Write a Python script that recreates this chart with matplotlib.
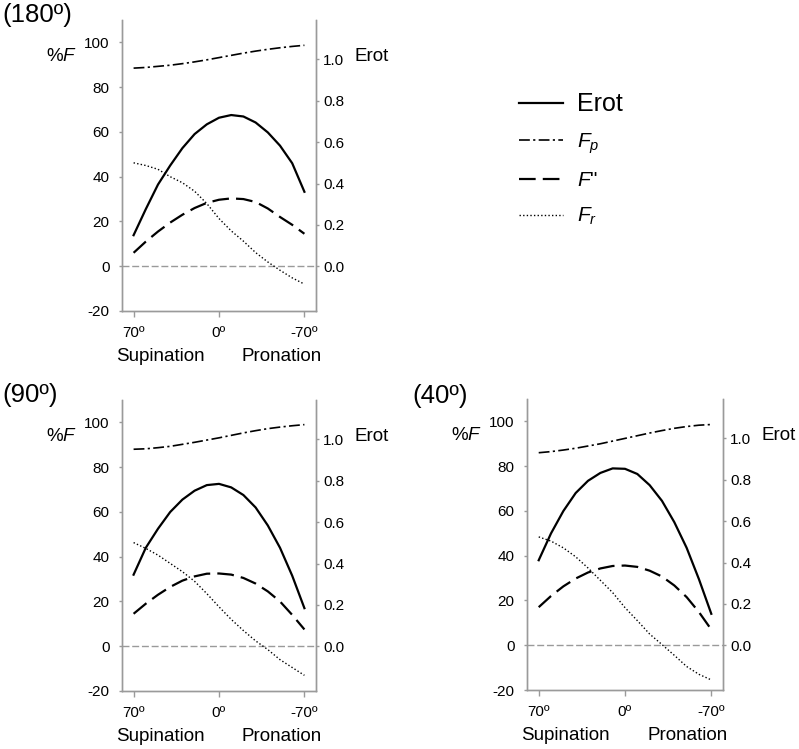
import matplotlib
matplotlib.use("Agg")
import matplotlib.pyplot as plt

plt.rcParams['font.family'] = ['Liberation Sans', 'DejaVu Sans']
plt.rcParams['mathtext.fontset'] = 'custom'
plt.rcParams['mathtext.rm'] = 'Liberation Sans'
plt.rcParams['mathtext.it'] = 'Liberation Sans:italic'

# ---------------- data ----------------
angles = [70, 60, 50, 40, 30, 20, 10, 0, -10, -20, -30, -40, -50, -60, -70]
x_ticks = [70, 0, -70]
x_tick_labels = ['70º', '0º', '-70º']
left_ticks = [-20, 0, 20, 40, 60, 80, 100]
right_ticks = [0.0, 0.2, 0.4, 0.6, 0.8, 1.0]

# 180º
fp_180 = [88.5, 88.8, 89.3, 89.8, 90.5, 91.3, 92.2, 93.2, 94.2, 95.2, 96.1, 96.9, 97.6, 98.2, 98.7]
erot_180 = [0.150, 0.276, 0.395, 0.487, 0.571, 0.639, 0.686, 0.718, 0.731, 0.724, 0.695, 0.647, 0.583, 0.498, 0.360]
fpp_180 = [6, 11, 15.5, 19.5, 23, 26, 28.3, 29.7, 30.3, 30, 28.7, 25.8, 22, 18.5, 14.5]
fr_180 = [46.2, 45, 43.3, 40, 37.3, 33.5, 28, 21.3, 15.8, 11.2, 6.1, 1.9, -1.8, -5.2, -8]

# 90º
fp_90 = [88, 88.2, 88.7, 89.3, 90.2, 91.1, 92.1, 93.1, 94.2, 95.3, 96.3, 97.2, 97.9, 98.5, 99]
erot_90 = [0.346, 0.476, 0.568, 0.649, 0.709, 0.752, 0.779, 0.785, 0.768, 0.731, 0.671, 0.584, 0.476, 0.341, 0.184]
fpp_90 = [14.5, 19, 23, 26.5, 29.3, 31.2, 32.4, 32.5, 32, 30.5, 28, 24.5, 20, 14, 7.5]
fr_90 = [46.3, 43.7, 40.7, 37, 33.3, 29, 23.5, 17.6, 12, 7, 2.4, -1.5, -6, -9.5, -13]

# 40º
fp_40 = [86, 86.5, 87.2, 88, 89, 90, 91.2, 92.4, 93.6, 94.8, 95.9, 96.9, 97.7, 98.3, 98.6]
erot_40 = [0.411, 0.541, 0.649, 0.736, 0.795, 0.833, 0.855, 0.853, 0.828, 0.774, 0.698, 0.595, 0.471, 0.319, 0.152]
fpp_40 = [17, 22, 26.3, 29.8, 32.5, 34.3, 35.4, 35.6, 35, 33.3, 30.7, 26.7, 21.5, 14.8, 7]
fr_40 = [48.4, 46.5, 43.5, 39.5, 34.5, 29, 23.5, 16.8, 11, 5, 0.3, -4.5, -9.5, -13, -15.5]

# ---------------- style ----------------
GRAY = '#9a9a9a'
RIGHT_SCALE = 0.010823  # Erot units per %F unit
YLIM = (-20, 110)
XLIM = (79.5, -79.5)

W, H = 799, 749
fig = plt.figure(figsize=(W / 100, H / 100), dpi=100)


def panel(rect_px, title, title_xy, fp, erot, fpp, fr):
    l, t, r, b = rect_px
    ax = fig.add_axes([l / W, 1 - b / H, (r - l) / W, (b - t) / H])
    ax2 = ax.twinx()
    ax.set_xlim(*XLIM)
    ax.set_ylim(*YLIM)
    ax2.set_ylim(YLIM[0] * RIGHT_SCALE, YLIM[1] * RIGHT_SCALE)

    ax.axhline(0, color=GRAY, lw=1.0, ls=(0, (5, 2)), zorder=1)
    l_fp, = ax.plot(angles, fp, color='black', lw=1.2, ls=(0, (6.5, 2, 1.3, 2)))
    l_fpp, = ax.plot(angles, fpp, color='black', lw=1.6, ls=(0, (7.5, 3.2)))
    l_fr, = ax.plot(angles, fr, color='black', lw=1.0, ls=(0, (1, 1.6)))
    l_e, = ax2.plot(angles, erot, color='black', lw=1.6)

    for a in (ax, ax2):
        a.spines['top'].set_visible(False)
        for s in ('left', 'right', 'bottom'):
            a.spines[s].set_color(GRAY)
            a.spines[s].set_linewidth(1.0)
    ax.set_xticks(x_ticks)
    ax.set_xticklabels(x_tick_labels)
    ax.set_yticks(left_ticks)
    ax.set_yticklabels([str(v) for v in left_ticks])
    ax2.set_yticks(right_ticks)
    ax2.set_yticklabels(['%.1f' % v for v in right_ticks])
    ax.tick_params(axis='y', length=2, width=1, color=GRAY, pad=7, labelsize=11)
    ax.tick_params(axis='x', length=4, width=1, color=GRAY, pad=7, labelsize=11)
    ax2.tick_params(axis='y', length=2, width=1, color=GRAY, pad=3, labelsize=11)

    ax.text(-0.31, 0.876, '%$F$', transform=ax.transAxes, ha='center', va='center', fontsize=13.5)
    ax.text(1.285, 0.873, 'Erot', transform=ax.transAxes, ha='center', va='center', fontsize=13.5)
    ax.text(0.197, -0.155, 'Supination', transform=ax.transAxes, ha='center', va='center', fontsize=13.5)
    ax.text(0.822, -0.155, 'Pronation', transform=ax.transAxes, ha='center', va='center', fontsize=13.5)
    fig.text(title_xy[0] / W, 1 - title_xy[1] / H, title, ha='left', va='top', fontsize=18.5)
    return l_e, l_fp, l_fpp, l_fr


handles = panel((122, 20, 316, 311), '(180º)', (2, 3), fp_180, erot_180, fpp_180, fr_180)
panel((122, 400, 316, 691), '(90º)', (2, 383), fp_90, erot_90, fpp_90, fr_90)
panel((527, 399, 723, 690), '(40º)', (412, 384), fp_40, erot_40, fpp_40, fr_40)

leg = fig.legend(handles, ['Erot', '$F_p$', '$F$"', '$F_r$'],
                 loc='upper left', bbox_to_anchor=(500 / W, 1 - 73 / H),
                 frameon=False, fontsize=15, handlelength=2.1, handletextpad=0.68,
                 labelspacing=0.75)
leg.get_texts()[0].set_fontsize(18)

fig.savefig('out.png', dpi=100)
